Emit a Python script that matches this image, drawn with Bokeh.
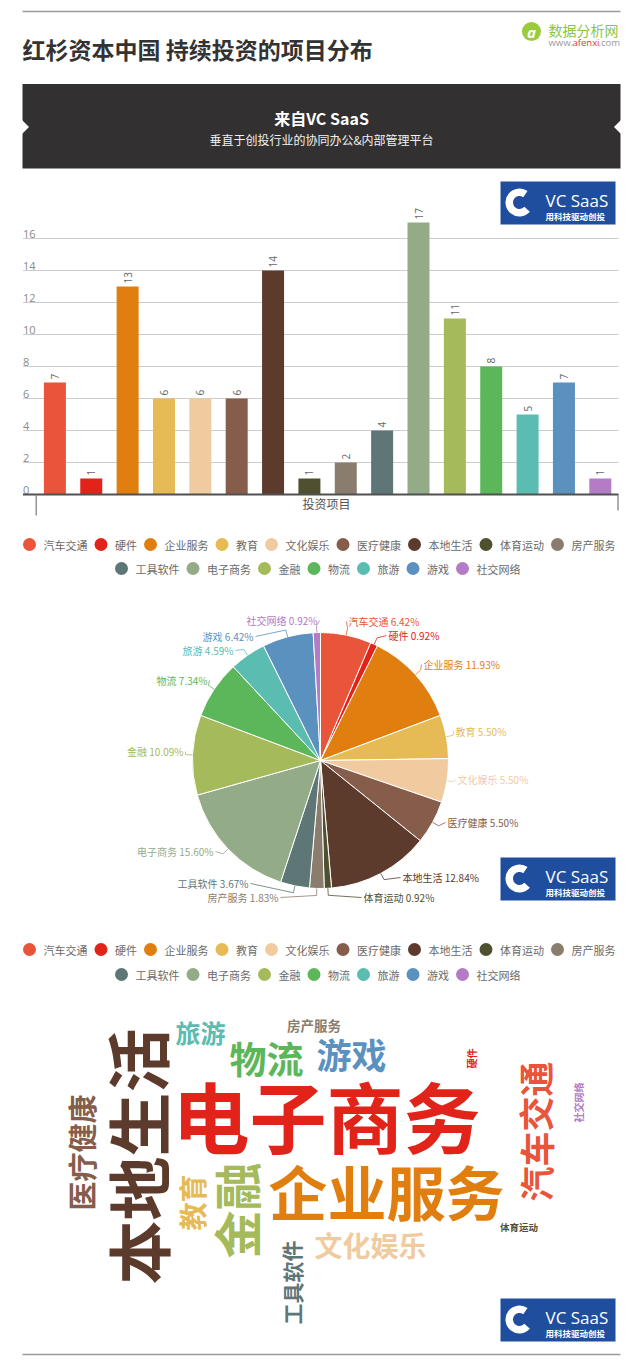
import math
from bokeh.plotting import figure
from bokeh.models import ColumnDataSource, Range1d
from bokeh.layouts import column
from bokeh.embed import file_html
from bokeh.resources import INLINE
from bokeh.core.properties import value

# ---------------- data ----------------
categories = ["汽车交通", "硬件", "企业服务", "教育", "文化娱乐", "医疗健康", "本地生活", "体育运动",
              "房产服务", "工具软件", "电子商务", "金融", "物流", "旅游", "游戏", "社交网络"]
counts = [7, 1, 13, 6, 6, 6, 14, 1, 2, 4, 17, 11, 8, 5, 7, 1]
colors = ["#e9553a", "#e2231a", "#e17e10", "#e6bb55", "#f0cba0", "#865d4b", "#5c3b2c", "#4f5030",
          "#8a7d6d", "#5f7677", "#93ab86", "#a5ba5a", "#5cb65a", "#5bbcb1", "#5b91bf", "#b47bc6"]
y_ticks = [0, 2, 4, 6, 8, 10, 12, 14, 16]
title_text = "红杉资本中国 持续投资的项目分布"
banner_title = "来自VC SaaS"
banner_sub = "垂直于创投行业的协同办公&内部管理平台"
x_axis_title = "投资项目"
logo_name = "VC SaaS"
logo_slogan = "用科技驱动创投"
site_name = "数据分析网"
site_url = ["www.", "afenxi", ".com"]
cloud_colors = list(colors)
cloud_colors[categories.index("电子商务")] = "#e2231a"

# ---------------- layout / style ----------------
CJK = value("Noto Sans CJK SC")
LAT = value("Open Sans")
W = 624
XL, XR = 0, 624  # page x covered by the figures


def base_fig(top, bottom, x_range=None, y_range=None):
    p = figure(width=W, height=bottom - top,
               x_range=x_range if x_range is not None else Range1d(XL, XR),
               y_range=y_range if y_range is not None else Range1d(-bottom, -top),
               output_backend="svg", toolbar_location=None,
               x_axis_location=None, y_axis_location=None,
               min_border=0, outline_line_color=None)
    p.grid.visible = False
    p.background_fill_color = "white"
    p.border_fill_color = "white"
    return p


def draw_logo(p, x0, y0, **rn):
    w, h = 115, 43
    p.quad(left=[x0], right=[x0 + w], top=[-y0], bottom=[-(y0 + h)],
           fill_color="#1f4e9f", line_color=None, **rn)
    p.annular_wedge(x=[x0 + 19], y=[-(y0 + 21)], inner_radius=6.5, outer_radius=14,
                    start_angle=math.radians(55), end_angle=math.radians(-42),
                    fill_color="white", line_color=None, **rn)
    p.text(x=[x0 + 45], y=[-(y0 + 19)], text=[logo_name], text_color="white",
           text_font=LAT, text_font_size="17px", text_baseline="middle", **rn)
    p.text(x=[x0 + 45], y=[-(y0 + 34.5)], text=[logo_slogan], text_color="white",
           text_font=CJK, text_font_style="bold", text_font_size="8.5px",
           text_baseline="middle", **rn)


def draw_legend(p, row_ys, split=9, starts=(29, 121)):
    rows = [list(range(0, split)), list(range(split, len(categories)))]
    cx, cy, tx, ty, tt, cc = [], [], [], [], [], []
    for r, idxs in enumerate(rows):
        x = starts[r]
        for i in idxs:
            cx.append(x); cy.append(-row_ys[r]); cc.append(colors[i])
            tx.append(x + 14); ty.append(-row_ys[r]); tt.append(categories[i])
            x += 11 * len(categories[i]) + 27.5
    p.scatter(x=cx, y=cy, size=13, fill_color=cc, line_color=None)
    p.text(x=tx, y=ty, text=tt, text_font=CJK, text_font_size="11px",
           text_color="#6a6a6a", text_baseline="middle")


# ---------------- A: header ----------------
pA = base_fig(0, 178)
pA.segment(x0=[22], y0=[-11], x1=[620], y1=[-11], line_color="#9b9b9b", line_width=1.5)
pA.text(x=[22], y=[-48], text=[title_text], text_font=CJK, text_font_style="bold",
        text_font_size="23px", text_color="#333333", text_baseline="middle")
pA.scatter(x=[531], y=[-31], size=19, fill_color="#9acb3c", line_color=None)
pA.text(x=[531], y=[-31], text=["a"], text_font=LAT, text_font_style="bold italic",
        text_font_size="15px", text_color="white", text_align="center", text_baseline="middle")
pA.text(x=[548], y=[-29], text=[site_name], text_font=CJK, text_font_size="14px",
        text_color="#8cc63f", text_baseline="middle")
pA.text(x=[548, 572, 598], y=[-42, -42, -42], text=site_url, text_font=LAT,
        text_font_size="9.5px", text_color=["#9a9a9a", "#e0393e", "#9a9a9a"],
        text_baseline="middle")
pA.quad(left=[22], right=[620], top=[-83.5], bottom=[-168], fill_color="#323031", line_color=None)
pA.patches(xs=[[21, 28.5, 21], [621, 613.5, 621]],
           ys=[[-119, -126.5, -134], [-119, -126.5, -134]],
           fill_color="white", line_color=None)
pA.text(x=[321], y=[-117], text=[banner_title], text_font=CJK, text_font_style="bold",
        text_font_size="16px", text_color="white", text_align="center", text_baseline="middle")
pA.text(x=[321], y=[-139], text=[banner_sub], text_font=CJK, text_font_size="12px",
        text_color="#f2f2f2", text_align="center", text_baseline="middle")

# ---------------- B: bar chart ----------------
PXU, X0PX, Y0PX, PYU = 36.36, 54.4, 494.0, 16.0


def bx(px):
    return (px - X0PX) / PXU


def by(py):
    return (Y0PX - py) / PYU


B_TOP, B_BOT = 178, 522
pB = base_fig(B_TOP, B_BOT, x_range=Range1d(bx(XL), bx(XR)), y_range=Range1d(by(B_BOT), by(B_TOP)))
pB.extra_x_ranges = {"px": Range1d(XL, XR)}
pB.extra_y_ranges = {"py": Range1d(-B_BOT, -B_TOP)}

grid_t = [t for t in y_ticks if t > 0]
pB.segment(x0=[bx(22.5)] * len(grid_t), x1=[bx(618)] * len(grid_t), y0=grid_t, y1=grid_t,
           line_color="#cdcdcd", line_width=1)
pB.text(x=[bx(22.5)] * len(y_ticks), y=y_ticks, text=[str(t) for t in y_ticks],
        text_font=LAT, text_font_size="11px", text_color="#8a8a8a",
        text_baseline="bottom", y_offset=-1)

xs = list(range(len(categories)))
src = ColumnDataSource(dict(x=xs, top=counts, color=colors, lab=[str(c) for c in counts], cat=categories))
pB.vbar(x="x", top="top", width=22 / PXU, fill_color="color", line_color=None, source=src)
pB.text(x="x", y="top", text="lab", angle=math.pi / 2, text_align="left", text_baseline="middle",
        y_offset=-3, text_font=LAT, text_font_size="10px", text_color="#666666", source=src)
pB.segment(x0=[bx(22.5)], x1=[bx(618)], y0=[0], y1=[0], line_color="#505050", line_width=2)
pB.segment(x0=[bx(35.7), bx(617.5)], x1=[bx(35.7), bx(617.5)], y0=[0, 0], y1=[by(515), by(510)],
           line_color="#7a7a7a", line_width=1.2)
pB.text(x=[bx(326)], y=[by(503)], text=[x_axis_title], text_font=CJK, text_font_size="12px",
        text_color="#555555", text_align="center", text_baseline="middle")
draw_logo(pB, 500, 181, x_range_name="px", y_range_name="py")

# ---------------- C: legend 1 ----------------
pC = base_fig(522, 592)
draw_legend(pC, (544, 568))

# ---------------- D: pie ----------------
pD = base_fig(592, 930)
CX, CY, R = 320, 760, 128
total = sum(counts)
fr = [c / total for c in counts]
cum = [0.0]
for f in fr:
    cum.append(cum[-1] + f)
starts_a = [math.pi / 2 - 2 * math.pi * cum[i] for i in range(len(fr))]
ends_a = [math.pi / 2 - 2 * math.pi * cum[i + 1] for i in range(len(fr))]
pD.wedge(x=CX, y=-CY, radius=R, start_angle=starts_a, end_angle=ends_a, direction="clock",
         fill_color=colors, line_color="white", line_width=1)

pie_label_pos = [(348, 621), (388, 635), (423, 664), (455, 731), (457, 779), (447, 822),
                 (402, 877), (363, 897), (278, 897), (248, 883), (213, 851), (183, 751),
                 (207, 680), (233, 650), (253, 636), (317, 620)]
lx, ly, lt, la, lc, lxs, lys = [], [], [], [], [], [], []
for i, (ax, ay) in enumerate(pie_label_pos):
    pct = counts[i] / total * 100
    lt.append(f"{categories[i]} {pct:.2f}%")
    lx.append(ax); ly.append(-ay); lc.append(colors[i])
    left = ax > CX
    la.append("left" if left else "right")
    mid = 2 * math.pi * (cum[i] + cum[i + 1]) / 2
    ex, ey = CX + R * math.sin(mid), CY - R * math.cos(mid)
    kx, ky = CX + (R + 7) * math.sin(mid), CY - (R + 7) * math.cos(mid)
    tx = ax - 2 if left else ax + 2
    lxs.append([ex, kx, tx]); lys.append([-ey, -ky, -ay])
pD.multi_line(xs=lxs, ys=lys, line_color=lc, line_width=0.8)
pD.text(x=lx, y=ly, text=lt, text_align=la, text_baseline="middle", text_font=CJK,
        text_font_size="10px", text_color=lc)
draw_logo(pD, 500, 857)

# ---------------- E: legend 2 ----------------
pE = base_fig(930, 995)
draw_legend(pE, (949, 974))

# ---------------- F: word cloud ----------------
pF = base_fig(995, 1363)
# (center x, center y, font px, vertical?) per category
cloud_layout = [(534.5, 1131, 35, 1), (471, 1058, 10, 1), (386, 1190, 59, 0), (191.5, 1202, 28, 1),
                (370, 1244, 28, 0), (80, 1152, 29, 1), (135, 1156, 64, 1), (518.5, 1226, 9.5, 0),
                (313.5, 1024, 13.5, 0), (291, 1282, 21, 1), (326, 1114, 77, 0), (234.5, 1210, 48, 1),
                (266, 1057, 37, 0), (200, 1031, 25, 0), (351, 1053, 35, 0), (578, 1102, 10, 1)]
csrc = ColumnDataSource(dict(
    x=[c[0] for c in cloud_layout], y=[-c[1] for c in cloud_layout],
    size=[f"{c[2]}px" for c in cloud_layout],
    angle=[math.pi / 2 if c[3] else 0.0 for c in cloud_layout],
    text=categories, color=cloud_colors))
pF.text(x="x", y="y", text="text", angle="angle", text_font_size={"field": "size"},
        text_color="color", text_font=CJK, text_font_style="bold",
        text_align="center", text_baseline="middle", source=csrc)
draw_logo(pF, 500, 1298)
pF.segment(x0=[22], y0=[-1354], x1=[620], y1=[-1354], line_color="#9b9b9b", line_width=1.5)

layout = column(pA, pB, pC, pD, pE, pF, spacing=0)
open("out.html", "w").write(file_html(layout, INLINE))
